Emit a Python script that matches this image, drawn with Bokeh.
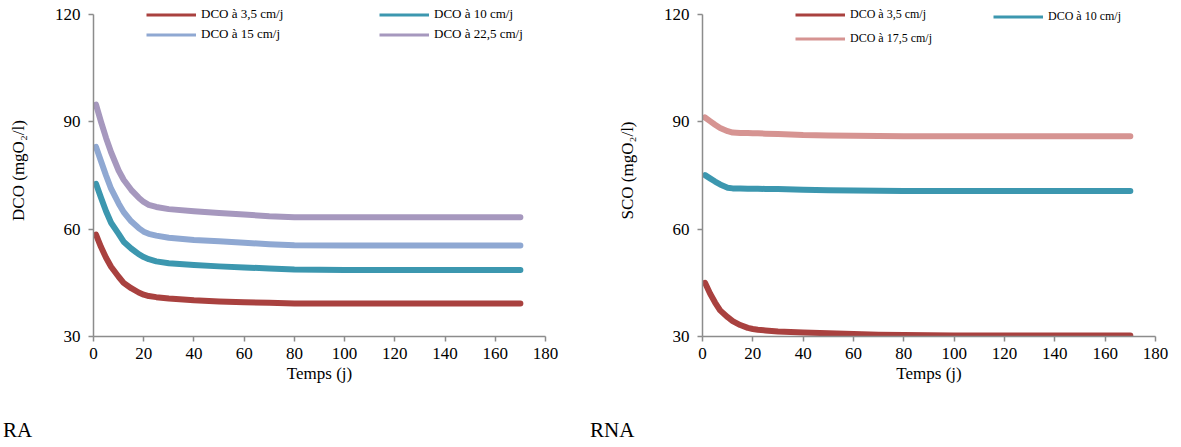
from bokeh.plotting import figure
from bokeh.models import Range1d, FixedTicker, Legend, LegendItem, Div
from bokeh.layouts import row, column
from bokeh.embed import file_html
from bokeh.resources import INLINE

# ---------------- data ----------------
days = [1, 3, 5, 7, 10, 12, 15, 18, 20, 22, 25, 30, 40, 50, 60, 70, 80, 100, 120, 140, 160, 170]

ra_35 = [58.5, 55.0, 52.0, 49.5, 46.7, 45.0, 43.5, 42.3, 41.7, 41.3, 41.0, 40.6, 40.1, 39.8, 39.6, 39.4, 39.2,
         39.2, 39.2, 39.2, 39.2, 39.2]
ra_10 = [72.7, 68.8, 65.0, 61.8, 58.7, 56.5, 54.6, 53.0, 52.2, 51.6, 51.0, 50.5, 50.0, 49.6, 49.3, 49.0, 48.7,
         48.6, 48.6, 48.6, 48.6, 48.6]
ra_15 = [83.0, 79.0, 75.0, 71.3, 67.2, 64.8, 62.2, 60.3, 59.3, 58.7, 58.2, 57.6, 57.0, 56.6, 56.2, 55.8, 55.5,
         55.4, 55.4, 55.4, 55.4, 55.4]
ra_225 = [94.8, 90.0, 85.5, 81.5, 76.4, 73.8, 71.0, 68.8, 67.6, 66.8, 66.2, 65.6, 65.0, 64.5, 64.1, 63.6, 63.3,
          63.3, 63.3, 63.3, 63.3, 63.3]

rna_35 = [45.0, 42.0, 39.5, 37.3, 35.4, 34.3, 33.2, 32.4, 32.1, 31.9, 31.7, 31.4, 31.1, 30.9, 30.7, 30.5, 30.4,
          30.3, 30.3, 30.3, 30.3, 30.3]
rna_10 = [75.1, 74.2, 73.3, 72.5, 71.6, 71.4, 71.35, 71.3, 71.3, 71.3, 71.25, 71.2, 71.0, 70.9, 70.8, 70.75, 70.7,
          70.7, 70.7, 70.7, 70.7, 70.7]
rna_175 = [91.2, 90.2, 89.2, 88.3, 87.4, 87.0, 86.9, 86.85, 86.8, 86.8, 86.7, 86.6, 86.3, 86.2, 86.1, 86.05, 86.0,
           86.0, 86.0, 86.0, 86.0, 86.0]

x_ticks = [0, 20, 40, 60, 80, 100, 120, 140, 160, 180]
y_ticks = [30, 60, 90, 120]

labels_ra = ["DCO à 3,5 cm/j", "DCO à 10 cm/j", "DCO à 15 cm/j", "DCO à 22,5 cm/j"]
labels_rna = ["DCO à 3,5 cm/j", "DCO à 10 cm/j", "DCO à 17,5 cm/j"]

C_RED = "#A9413F"
C_TEAL = "#3C97AF"
C_LBLUE = "#8FA8D2"
C_PURPLE = "#A698BE"
C_PINK = "#D69492"

FONT = "'Liberation Serif', 'Times New Roman', serif"
AXC = "#8C8C8C"

FIG_H = 400
Y_MIN, Y_MAX = 30, 120
FRAME_H = 332           # frame from y=4 to y=336; axis itself spans 30..120 (y=14..336)
Y_TOP = Y_MAX + (Y_MAX - Y_MIN) * 10 / 322


def make_fig(width, border_left, border_right, ylabel):
    p = figure(width=width, height=FIG_H, output_backend="svg", toolbar_location=None,
               x_range=Range1d(0, 180), y_range=Range1d(Y_MIN, Y_TOP),
               min_border_left=border_left, min_border_right=border_right,
               min_border_top=4, min_border_bottom=FIG_H - 4 - FRAME_H)
    p.outline_line_color = None
    p.xgrid.visible = False
    p.ygrid.visible = False
    p.xaxis.ticker = FixedTicker(ticks=x_ticks)
    p.yaxis.ticker = FixedTicker(ticks=y_ticks)
    p.yaxis.bounds = (Y_MIN, Y_MAX)
    for ax in (p.xaxis, p.yaxis):
        ax.axis_line_color = AXC
        ax.axis_line_width = 1.5
        ax.major_tick_line_color = AXC
        ax.major_tick_line_width = 1.5
        ax.major_tick_out = 5
        ax.major_tick_in = 0
        ax.minor_tick_line_color = None
        ax.major_label_text_font = FONT
        ax.major_label_text_font_size = "17px"
        ax.major_label_text_font_style = "normal"
        ax.major_label_text_color = "#000000"
        ax.axis_label_text_font = FONT
        ax.axis_label_text_font_size = "17px"
        ax.axis_label_text_font_style = "normal"
        ax.axis_label_text_color = "#000000"
    p.xaxis.major_label_standoff = 6
    p.yaxis.major_label_standoff = 8
    p.xaxis.axis_label = "Temps (j)"
    p.xaxis.axis_label_standoff = 2
    p.yaxis.axis_label = ylabel
    p.yaxis.axis_label_standoff = 24
    return p


def style_legend(lg, size, spacing):
    lg.label_text_font = FONT
    lg.label_text_font_size = size
    lg.label_text_color = "#000000"
    lg.glyph_width = 50
    lg.glyph_height = 13
    lg.label_height = 13
    lg.label_standoff = 5
    lg.spacing = spacing
    lg.padding = 0
    lg.margin = 0
    lg.border_line_color = None
    lg.background_fill_alpha = 0
    lg.inactive_fill_alpha = 0


def series(p, ys, color):
    p.line(days, ys, line_color=color, line_width=6, line_cap="round", line_join="round")
    # thinner, hidden twin used only as the legend key
    return p.line(days, ys, line_color=color, line_width=3, visible=False)


def caption(text, width, pad_left):
    return Div(text=text, width=width, height=447 - FIG_H, margin=0,
               styles={"font-family": "'Liberation Serif', 'Times New Roman', serif",
                       "font-size": "21px", "line-height": "24px", "color": "#000000",
                       "padding-top": "18px", "padding-left": f"{pad_left}px"})


# ---------------- left: RA ----------------
p1 = make_fig(590, 93, 45, "DCO (mgO₂/l)")
k1 = series(p1, ra_35, C_RED)
k2 = series(p1, ra_10, C_TEAL)
k3 = series(p1, ra_15, C_LBLUE)
k4 = series(p1, ra_225, C_PURPLE)

lg1a = Legend(items=[LegendItem(label=labels_ra[0], renderers=[k1]),
                     LegendItem(label=labels_ra[2], renderers=[k3])],
              location=(53, 294))
lg1b = Legend(items=[LegendItem(label=labels_ra[1], renderers=[k2]),
                     LegendItem(label=labels_ra[3], renderers=[k4])],
              location=(286, 294))
for lg in (lg1a, lg1b):
    style_legend(lg, "13px", 4)
    p1.add_layout(lg, "center")

# ---------------- right: RNA ----------------
p2 = make_fig(591, 112, 26, "SCO (mgO₂/l)")
m1 = series(p2, rna_35, C_RED)
m2 = series(p2, rna_10, C_TEAL)
m3 = series(p2, rna_175, C_PINK)

lg2a = Legend(items=[LegendItem(label=labels_rna[0], renderers=[m1]),
                     LegendItem(label=labels_rna[2], renderers=[m3])],
              location=(93, 290))
lg2b = Legend(items=[LegendItem(label=labels_rna[1], renderers=[m2])],
              location=(291, 312))
for lg in (lg2a, lg2b):
    style_legend(lg, "12px", 9)
    p2.add_layout(lg, "center")

layout = column(row(p1, p2), row(caption("RA", 590, 3), caption("RNA", 591, 0)))
open("out.html", "w").write(file_html(layout, INLINE))
